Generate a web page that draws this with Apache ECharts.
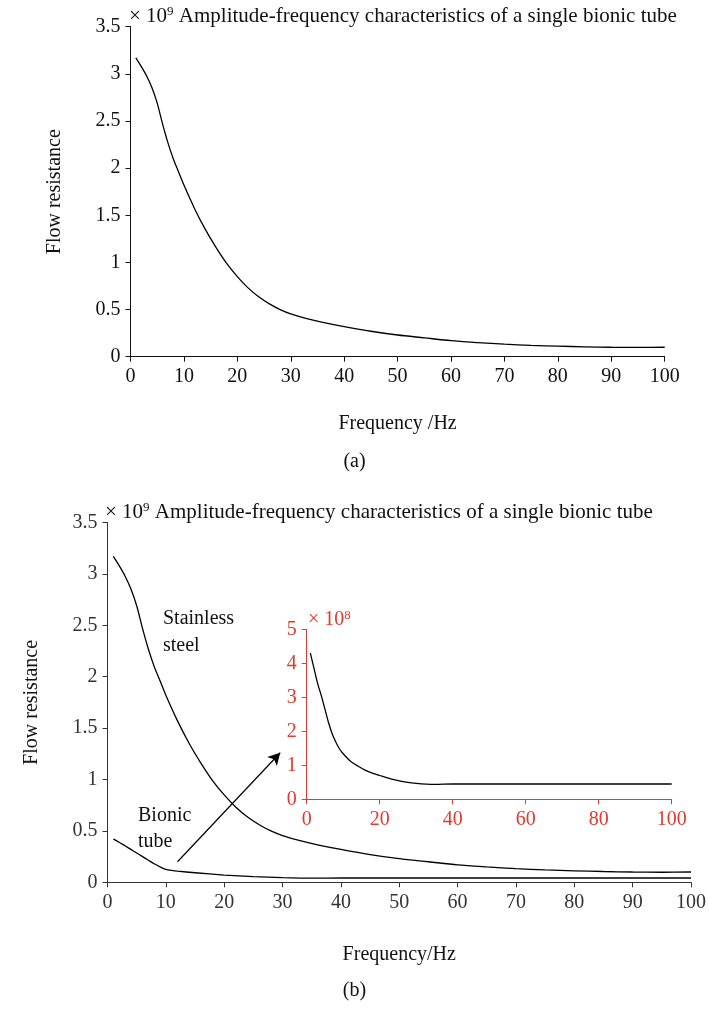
<!DOCTYPE html>
<html>
<head>
<meta charset="utf-8">
<script src="https://cdn.jsdelivr.net/npm/echarts@6/dist/echarts.min.js"></script>
<style>
html,body{margin:0;padding:0;background:#fff;}
#chart{width:709px;height:1010px;}
</style>
</head>
<body>
<div id="chart"></div>
<script>
// ---- data ----
var titleText = 'Amplitude-frequency characteristics of a single bionic tube';
var xTicks = [0, 10, 20, 30, 40, 50, 60, 70, 80, 90, 100];
var yTicks = [0, 0.5, 1, 1.5, 2, 2.5, 3, 3.5];
var insetXTicks = [0, 20, 40, 60, 80, 100];
var insetYTicks = [0, 1, 2, 3, 4, 5];

// Stainless steel (x 10^9)
var steelFreq = [1, 2, 3, 4, 5, 6, 7, 8, 9, 10, 12, 14, 16, 18, 20, 22, 24, 26, 28, 30, 33, 36, 40, 45, 50, 55, 60, 65, 70, 75, 80, 85, 90, 95, 100];
var steelVal  = [3.17, 3.08, 2.98, 2.855, 2.69, 2.47, 2.27, 2.10, 1.96, 1.82, 1.57, 1.35, 1.16, 0.99, 0.85, 0.73, 0.635, 0.56, 0.50, 0.455, 0.405, 0.365, 0.32, 0.27, 0.23, 0.20, 0.17, 0.15, 0.133, 0.12, 0.112, 0.105, 0.10, 0.098, 0.10];

// Bionic tube on main axis (x 10^9)
var bionicFreq = [1, 2, 3, 4, 5, 6, 7, 8, 9, 10, 11, 12, 15, 20, 25, 30, 35, 40, 50, 60, 70, 80, 90, 100];
var bionicVal  = [0.42, 0.39, 0.355, 0.32, 0.285, 0.25, 0.215, 0.18, 0.15, 0.125, 0.115, 0.108, 0.093, 0.07, 0.055, 0.045, 0.04, 0.042, 0.042, 0.042, 0.042, 0.042, 0.042, 0.042];

// Bionic tube inset (x 10^8)
var insetFreq = [1, 2, 3, 4, 5, 6, 7, 8, 9, 10, 12, 14, 16, 18, 20, 23, 26, 30, 35, 40, 50, 60, 70, 80, 90, 100];
var insetVal  = [4.3, 3.85, 3.4, 3.05, 2.65, 2.25, 1.92, 1.68, 1.48, 1.34, 1.12, 0.98, 0.86, 0.77, 0.70, 0.60, 0.53, 0.47, 0.44, 0.45, 0.45, 0.45, 0.45, 0.45, 0.45, 0.45];

// annotation arrow (data units of panel b)
var arrowFrom = [12, 0.20];
var arrowTo = [29.6, 1.26];

function pairs(xs, ys) { return xs.map(function (x, i) { return [x, ys[i]]; }); }

var FONT = 'Liberation Serif';
var RED = '#e8372c';
var LBL = 20;

function valueAxis(grid, min, max, interval, color, extra) {
  var a = {
    type: 'value', gridIndex: grid, min: min, max: max, interval: interval,
    axisLine: { show: true, onZero: false, lineStyle: { color: color, width: 1 } },
    axisTick: { show: true, inside: false, length: 5, lineStyle: { color: color } },
    splitLine: { show: false },
    axisLabel: { color: color, fontFamily: FONT, fontSize: LBL, margin: 10 }
  };
  for (var k in extra) a[k] = extra[k];
  return a;
}

var chart = echarts.init(document.getElementById('chart'), null, { renderer: 'canvas' });

var titleRich = {
  n: { fontFamily: FONT, fontSize: 21, fontWeight: 'normal', color: '#111' },
  sup: { fontFamily: FONT, fontSize: 13, fontWeight: 'normal', color: '#111', padding: [0, 0, 9, 0] }
};

var option = {
  animation: false,
  backgroundColor: '#fff',
  textStyle: { fontFamily: FONT },
  title: [
    { left: 124, top: 0, text: '{n|× 10}{sup|9}{n| ' + titleText + '}', textStyle: { fontWeight: 'normal', rich: titleRich } },
    { left: 100, top: 496, text: '{n|× 10}{sup|9}{n| ' + titleText + '}', textStyle: { fontWeight: 'normal', rich: titleRich } },
    { left: 303, top: 604, text: '{n|× 10}{sup|8}', textStyle: { fontWeight: 'normal', rich: {
      n: { fontFamily: FONT, fontSize: 20, fontWeight: 'normal', color: RED },
      sup: { fontFamily: FONT, fontSize: 13, fontWeight: 'normal', color: RED, padding: [0, 0, 9, 0] } } } }
  ],
  grid: [
    { left: 130.5, top: 26.7, width: 534.2, height: 330 },
    { left: 107.5, top: 522.5, width: 588, height: 359.8 },
    { left: 306.7, top: 629.3, width: 365, height: 170 }
  ],
  xAxis: [
    valueAxis(0, xTicks[0], xTicks[xTicks.length - 1], xTicks[1] - xTicks[0], '#111',
      { name: 'Frequency /Hz', nameLocation: 'middle', nameGap: 57, nameTextStyle: { fontFamily: FONT, fontSize: 20, color: '#111' } }),
    valueAxis(1, xTicks[0], xTicks[xTicks.length - 1], xTicks[1] - xTicks[0], '#333',
      { name: 'Frequency/Hz', nameLocation: 'middle', nameGap: 62, nameTextStyle: { fontFamily: FONT, fontSize: 20, color: '#111' } }),
    valueAxis(2, insetXTicks[0], insetXTicks[insetXTicks.length - 1], insetXTicks[1] - insetXTicks[0], RED, {})
  ],
  yAxis: [
    valueAxis(0, yTicks[0], yTicks[yTicks.length - 1], yTicks[1] - yTicks[0], '#111',
      { name: 'Flow resistance', nameLocation: 'middle', nameGap: 66, nameRotate: 90, nameTextStyle: { fontFamily: FONT, fontSize: 20, color: '#111' } }),
    valueAxis(1, yTicks[0], yTicks[yTicks.length - 1], yTicks[1] - yTicks[0], '#333',
      { name: 'Flow resistance', nameLocation: 'middle', nameGap: 66, nameRotate: 90, nameTextStyle: { fontFamily: FONT, fontSize: 20, color: '#111' } }),
    valueAxis(2, insetYTicks[0], insetYTicks[insetYTicks.length - 1], insetYTicks[1] - insetYTicks[0], RED, {})
  ],
  series: [
    { type: 'line', xAxisIndex: 0, yAxisIndex: 0, data: pairs(steelFreq, steelVal), smooth: 0.3, showSymbol: false,
      lineStyle: { color: '#000', width: 1.3 } },
    { type: 'line', xAxisIndex: 1, yAxisIndex: 1, data: pairs(steelFreq, steelVal), smooth: 0.3, showSymbol: false,
      lineStyle: { color: '#000', width: 1.3 } },
    { type: 'line', xAxisIndex: 1, yAxisIndex: 1, data: pairs(bionicFreq, bionicVal), smooth: 0.2, showSymbol: false,
      lineStyle: { color: '#000', width: 1.3 },
      markLine: { silent: true, symbol: ['none', 'arrow'], symbolSize: [10, 12], label: { show: false },
        lineStyle: { color: '#000', width: 1.2, type: 'solid' },
        data: [[{ coord: arrowFrom }, { coord: arrowTo }]] } },
    { type: 'line', xAxisIndex: 2, yAxisIndex: 2, data: pairs(insetFreq, insetVal), smooth: 0.25, showSymbol: false,
      lineStyle: { color: '#000', width: 1.3 } }
  ],
  graphic: [
    { type: 'text', left: 'center', top: 452, style: { text: '(a)', font: '20px "Liberation Serif"', fill: '#111' } },
    { type: 'text', left: 'center', top: 981, style: { text: '(b)', font: '20px "Liberation Serif"', fill: '#111' } },
    { type: 'text', left: 163, top: 605, style: { text: 'Stainless\nsteel', font: '20px "Liberation Serif"', fill: '#111', lineHeight: 27 } },
    { type: 'text', left: 138, top: 803, style: { text: 'Bionic\ntube', font: '20px "Liberation Serif"', fill: '#111', lineHeight: 26 } }
  ]
};
chart.setOption(option);
</script>
</body>
</html>
